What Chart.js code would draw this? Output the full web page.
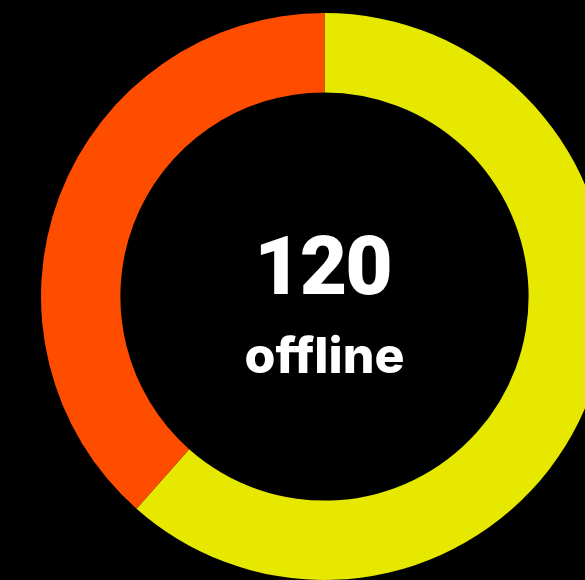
<!DOCTYPE html>
<html>
<head>
<meta charset="utf-8">
<script src="https://cdn.jsdelivr.net/npm/chart.js@4/dist/chart.umd.min.js"></script>
<style>
  html, body { margin: 0; padding: 0; background: #000; overflow: hidden; width: 585px; height: 580px; }
  #wrap { position: absolute; left: 41px; top: 13px; width: 567px; height: 567px; }
</style>
</head>
<body>
<div id="wrap"><canvas id="c" width="567" height="567"></canvas></div>
<script>
const labels = ["online", "offline"];
const values = [192, 120];
const colors = ["#e6e800", "#ff4d00"];
const centerValue = "120";
const centerLabel = "offline";

const centerText = {
  id: "centerText",
  afterDraw(chart) {
    const ctx = chart.ctx;
    const meta = chart.getDatasetMeta(0);
    const arc = meta.data[0];
    const cx = arc.x, cy = arc.y;
    ctx.save();
    ctx.fillStyle = "#ffffff";
    ctx.textAlign = "center";
    ctx.textBaseline = "alphabetic";
    ctx.font = "900 82px Roboto";
    if ('letterSpacing' in ctx) ctx.letterSpacing = "-2px";
    ctx.fillText(centerValue, cx - 2, cy - 3);
    if ('letterSpacing' in ctx) ctx.letterSpacing = "0px";
    ctx.font = "800 50px Inter";
    ctx.fillText(centerLabel, cx, cy + 76);
    ctx.restore();
  }
};

new Chart(document.getElementById("c"), {
  type: "doughnut",
  data: {
    labels: labels,
    datasets: [{
      data: values,
      backgroundColor: colors,
      borderWidth: 0
    }]
  },
  options: {
    responsive: false,
    animation: false,
    cutout: "72%",
    layout: { padding: 0 },
    plugins: {
      legend: { display: false },
      tooltip: { enabled: false }
    }
  },
  plugins: [centerText]
});
</script>
</body>
</html>
